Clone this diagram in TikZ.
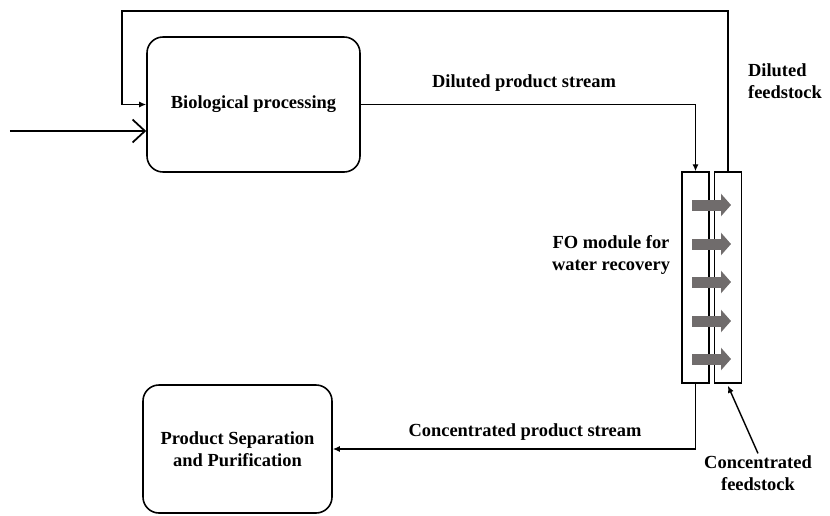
\documentclass[tikz,border=0pt]{standalone}
\usepackage{fontspec}
\setmainfont{Liberation Serif}
\usepackage{xcolor}
\usepackage{tikz}
\usetikzlibrary{shapes,arrows,positioning,calc,arrows.meta}

\definecolor{arrowgray}{RGB}{112,108,108}

\tikzset{
    procbox/.style={draw, line width=0.9pt, rounded corners=0.32cm, align=center, font=\fontsize{10.5}{12.5}\selectfont\bfseries},
    colbox/.style={draw, line width=0.8pt, minimum width=0.54cm, minimum height=4.22cm, inner sep=0pt},
    flow/.style={line width=0.8pt, -{Latex[length=4pt,width=3.5pt]}},
    lbl/.style={font=\fontsize{10.5}{12.5}\selectfont\bfseries, align=center, inner sep=1pt}
}

\begin{document}
\begin{tikzpicture}
    \useasboundingbox (0,0) rectangle (16.6,-10.3);

    % process boxes
    \node[procbox, minimum width=4.26cm, minimum height=2.7cm] (bio) at (5.07,-2.09) {Biological processing};
    \node[procbox, minimum width=3.78cm, minimum height=2.56cm] (prod) at (4.75,-8.98) {Product Separation\\and Purification};

    % FO module, two channels
    \node[colbox] (lcol) at (13.91,-5.55) {};
    \node[colbox, right=0.08cm of lcol] (rcol) {};

    % water flux through the membrane
    \foreach \y in {4.10,4.88,5.64,6.42,7.18}
        \draw[arrowgray, line width=0.22cm, -{Triangle[length=0.2cm,width=0.44cm]}] (13.84,-\y) -- (14.62,-\y);

    % streams
    \coordinate (feedin) at (0.2,-2.62);
    \coordinate (topright) at (rcol.north |- 0,-0.22);
    \coordinate (topleft) at (2.44,-0.22);
    \draw[line width=1pt, -{Straight Barb[length=7pt,width=13pt]}] (feedin) -- (feedin -| bio.west);
    \draw[flow] (rcol.north) -- (topright) -- (topleft) |- (bio.west);
    \draw[flow] (bio.east) -| (lcol.north);
    \draw[flow] (lcol.south) |- (prod.east);

    % labels
    \node[lbl] (dps) at (10.48,-1.66) {Diluted product stream};
    \node[lbl, anchor=west, align=left] (dfeed) at (14.92,-1.62) {Diluted\\feedstock};
    \node[lbl] (fo) at (12.22,-5.1) {FO module for\\water recovery};
    \node[lbl] (cps) at (10.5,-8.64) {Concentrated product stream};
    \node[lbl] (cfeed) at (15.16,-9.46) {Concentrated\\feedstock};
    \draw[line width=0.8pt, -{Latex[length=4pt,width=3.5pt]}] (cfeed.north) -- ([yshift=-0.04cm]rcol.south);
\end{tikzpicture}
\end{document}
